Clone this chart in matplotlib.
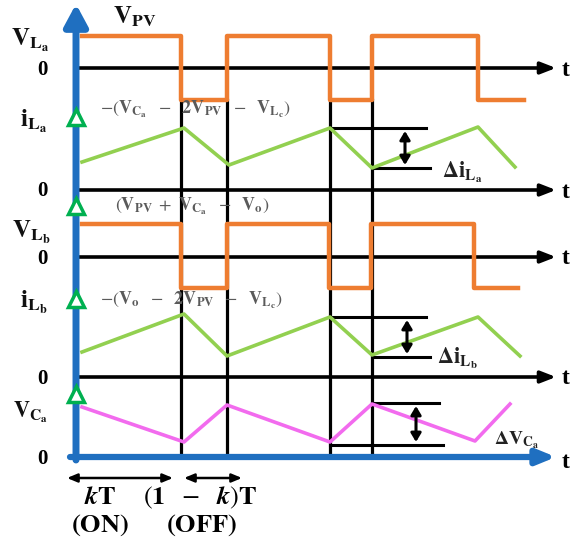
import numpy as np
import matplotlib
matplotlib.use("Agg")
from matplotlib import pyplot as plt

plt.rcParams["mathtext.fontset"] = "stix"
plt.rcParams["font.family"] = "Liberation Serif"

# square waves: high / low levels and switching edges
vla_hi, vla_lo = 36, 100
vlb_hi, vlb_lo = 224, 288
vla_edges = [82, 181, 227, 330, 372, 478, 524]
vlb_edges = [82, 181, 227, 329, 371, 474, 518]
# triangular waves
ila_t = [82, 184, 229, 330, 372, 478, 515]
ila_y = [162, 128, 165, 128, 168, 127, 167]
ilb_t = [82, 184, 227, 330, 372, 478, 520]
ilb_y = [352, 314, 356, 317, 355, 317, 356]
vca_t = [82, 184, 227, 330, 372, 475, 510]
vca_y = [407, 442, 405, 442, 404, 441, 404]
# zero axes
zero_y = [68, 190, 257, 377]
# switching guide lines
guide_x = [181, 227, 330, 372]

ORANGE = "#EE7D31"
GREEN = "#92D050"
TRI = "#00B050"
MAGENTA = "#F26BEE"
BLUE = "#1F6FC0"


def square(edges, hi, lo):
    xs, ys = [], []
    lev = [hi, lo]
    for i in range(len(edges) - 1):
        v = lev[i % 2]
        xs += [edges[i], edges[i + 1]]
        ys += [v, v]
    return xs, ys


fig = plt.figure(figsize=(5.77, 5.42), dpi=100)
ax = fig.add_axes([0, 0, 1, 1])
ax.set_xlim(0, 577)
ax.set_ylim(542, 0)
ax.axis("off")

# guides
for gx in guide_x:
    ax.plot([gx, gx], [100, 457], color="black", lw=2.3, zorder=2)

# zero axes with arrows
for zy in zero_y:
    ax.annotate("", xy=(556, zy), xytext=(78, zy),
                arrowprops=dict(arrowstyle="-|>,head_length=0.9,head_width=0.35",
                                lw=2.6, color="black", shrinkA=0, shrinkB=0), zorder=2)
    ax.text(566, zy + 2, "t", fontsize=17, fontweight="bold", ha="center", va="center")

# waveforms
x, y = square(vla_edges, vla_hi, vla_lo)
ax.plot(x, y, color=ORANGE, lw=3.2, zorder=3)
x, y = square(vlb_edges, vlb_hi, vlb_lo)
ax.plot(x, y, color=ORANGE, lw=3.2, zorder=3)
ax.plot(ila_t, ila_y, color=GREEN, lw=2.6, zorder=3)
ax.plot(ilb_t, ilb_y, color=GREEN, lw=2.6, zorder=3)
ax.plot(vca_t, vca_y, color=MAGENTA, lw=2.6, zorder=3)

# ripple markers
def ripple(x0a, x0b, x1, ya, yb, xa):
    ax.plot([x0a, x1], [ya, ya], color="black", lw=2.2, zorder=2)
    ax.plot([x0b, x1 + 4], [yb, yb], color="black", lw=2.2, zorder=2)
    ax.annotate("", xy=(xa, ya + 3), xytext=(xa, yb - 3),
                arrowprops=dict(arrowstyle="<|-|>,head_length=0.5,head_width=0.3",
                                lw=2.2, color="black", shrinkA=0, shrinkB=0))

ripple(333, 372, 426, 128, 168, 405)
ripple(330, 372, 426, 317, 357, 407)
ripple(372, 330, 439, 403, 445, 416)
ax.text(442, 172, r"$\mathbf{\Delta i_{L_a}}$", fontsize=16, va="center", color="#222222")
ax.text(437, 358, r"$\mathbf{\Delta i_{L_b}}$", fontsize=16, va="center", color="#222222")
ax.text(494, 440, r"$\mathbf{\Delta V_{C_a}}$", fontsize=14, va="center", color="#222222")

# blue axes
ax.annotate("", xy=(76, 4), xytext=(76, 460),
            arrowprops=dict(arrowstyle="-|>,head_length=1.3,head_width=0.7",
                            lw=5, color=BLUE, shrinkA=0, shrinkB=0), zorder=4)
ax.annotate("", xy=(556, 457), xytext=(70, 457),
            arrowprops=dict(arrowstyle="-|>,head_length=1.1,head_width=0.45",
                            lw=4.5, color=BLUE, shrinkA=0, shrinkB=0), zorder=4)
ax.text(566, 462, "t", fontsize=17, fontweight="bold", ha="center", va="center")

# green open triangles on vertical axis
for ty in [117, 206, 299, 394]:
    ax.plot(76, ty, marker="^", ms=12, mfc="white", mec=TRI, mew=2.5, zorder=5)

# left labels
lab = dict(fontsize=18, ha="center", va="center", color="#111111")
ax.text(30, 40, r"$\mathbf{V_{L_a}}$", **lab)
ax.text(31, 232, r"$\mathbf{V_{L_b}}$", **lab)
ax.text(34, 121, r"$\mathbf{i_{L_a}}$", **lab)
ax.text(34, 302, r"$\mathbf{i_{L_b}}$", **lab)
ax.text(31, 412, r"$\mathbf{V_{C_a}}$", fontsize=16, ha="center", va="center", color="#111111")
for zy in [70, 191, 259, 379, 459]:
    ax.text(42, zy, "0", fontsize=15, fontweight="bold", ha="center", va="center")
ax.text(135, 17, r"$\mathbf{V_{PV}}$", fontsize=18, ha="center", va="center", color="#111111")

# annotations
ann = dict(fontsize=13, ha="left", va="center", color="#5a5a5a")
ax.text(100, 109, r"$-(\mathbf{V_{C_a}}\ \ -\ \ \mathbf{2V_{PV}}\ \ -\ \ \mathbf{V_{L_c}})$", **ann)
ax.text(115, 206, r"$(\mathbf{V_{PV}}\ +\ \mathbf{V_{C_a}}\ \ -\ \ \mathbf{V_o})$", **ann)
ax.text(100, 300, r"$-(\mathbf{V_o}\ \ -\ \ \mathbf{2V_{PV}}\ \ -\ \ \mathbf{V_{L_c}})$", **ann)

# bottom period arrows
for xa, xb in [(67, 173), (184, 242)]:
    ax.annotate("", xy=(xb, 478), xytext=(xa, 478),
                arrowprops=dict(arrowstyle="<|-|>,head_length=0.6,head_width=0.25",
                                lw=1.8, color="black", shrinkA=0, shrinkB=0))
bt = dict(fontsize=19, ha="left", va="center")
ax.text(84, 498, r"$\boldsymbol{k}\mathbf{T}$", **bt)
ax.text(143, 498, r"$(\mathbf{1}\ \ -\ \ \boldsymbol{k})\mathbf{T}$", **bt)
ax.text(71, 525, r"$\mathbf{(ON)}$", **bt)
ax.text(166, 525, r"$\mathbf{(OFF)}$", **bt)

fig.savefig("out.png", dpi=100)
